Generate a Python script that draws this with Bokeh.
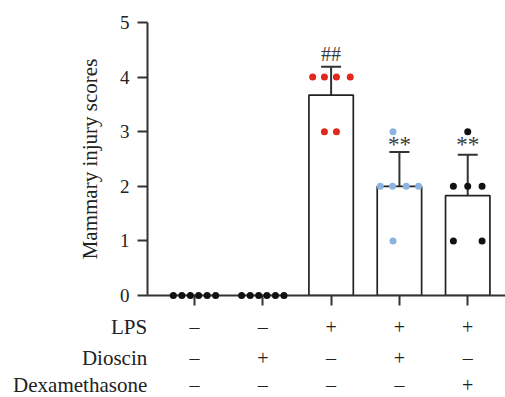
from bokeh.plotting import figure
from bokeh.models import ColumnDataSource, Whisker, TeeHead, FixedTicker, Range1d
from bokeh.core.properties import value
from bokeh.embed import file_html
from bokeh.resources import INLINE

# ---- data ----
groups = [0, 1, 2, 3, 4]
means = [0.0, 0.0, 3.67, 2.0, 1.83]
sds = [0.0, 0.0, 0.52, 0.63, 0.75]
g1 = [0, 0, 0, 0, 0, 0]
g2 = [0, 0, 0, 0, 0, 0]
g3 = [4, 4, 4, 4, 3, 3]
g4 = [3, 2, 2, 2, 2, 1]
g5 = [3, 2, 2, 2, 1, 1]
row_labels = ["LPS", "Dioscin", "Dexamethasone"]
lps = ["–", "–", "+", "+", "+"]
dioscin = ["–", "+", "–", "+", "–"]
dexa = ["–", "–", "–", "–", "+"]
sig_groups = [2, 3, 4]
sig_marks = ["##", "**", "**"]
y_ticks = [0, 1, 2, 3, 4, 5]

# scatter layout (horizontal spread of points inside each group)
jit1 = [-0.31, -0.185, -0.06, 0.06, 0.185, 0.31]
jit3 = [-0.27, -0.098, 0.078, 0.28, -0.098, 0.078]
jit4 = [-0.094, -0.28, -0.1, 0.1, 0.28, -0.094]
jit5 = [0.0, -0.21, 0.0, 0.21, -0.21, 0.21]

RED = "#e0281c"
BLUE = "#8db3e2"
BLACK = "#111111"
AX = "#333333"
FONT = "Liberation Serif"

p = figure(width=505, height=397, output_backend="svg", toolbar_location=None,
           x_range=Range1d(-0.688, 4.553), y_range=Range1d(0, 5),
           min_border_left=147, min_border_right=0, min_border_top=22,
           min_border_bottom=102)
p.outline_line_color = None
p.xgrid.visible = False
p.ygrid.visible = False

# bars
p.vbar(x=groups, top=means, width=0.65, fill_color="white",
       line_color="#222222", line_width=1.7)

# error bars
eb_x = [groups[i] for i in range(5) if sds[i] > 0]
eb_up = [means[i] + sds[i] for i in range(5) if sds[i] > 0]
eb_lo = [means[i] - sds[i] for i in range(5) if sds[i] > 0]
esrc = ColumnDataSource(dict(x=eb_x, upper=eb_up, lower=eb_lo))
wh = Whisker(base="x", upper="upper", lower="lower", source=esrc,
             dimension="height", line_color=AX, line_width=2,
             upper_head=TeeHead(size=20, line_color=AX, line_width=2),
             lower_head=TeeHead(size=20, line_color=AX, line_width=2))
p.add_layout(wh)

# points
def pts(g, vals, jit, color):
    xs = [g + j for j in jit]
    p.scatter(x=xs, y=vals, size=7, fill_color=color, line_color=None,
              level="overlay")

pts(0, g1, jit1, BLACK)
pts(1, g2, jit1, BLACK)
pts(2, g3, jit3, RED)
pts(3, g4, jit4, BLUE)
pts(4, g5, jit5, BLACK)

# significance marks
p.text(x=sig_groups[:1], y=[4.43], text=sig_marks[:1], text_align="center",
       text_baseline="middle", text_font=value(FONT), text_font_size="20px",
       text_color="#3a3a3a", level="overlay")
p.text(x=sig_groups[1:], y=[2.76, 2.76], text=sig_marks[1:], text_align="center",
       text_baseline="middle", text_font=value(FONT), text_font_size="23px",
       text_color="#3a3a3a", level="overlay")

# axes
p.yaxis.ticker = FixedTicker(ticks=y_ticks)
p.yaxis.minor_tick_line_color = None
p.yaxis.major_tick_in = 0
p.yaxis.major_tick_out = 10
p.yaxis.major_tick_line_width = 2
p.yaxis.major_tick_line_color = AX
p.yaxis.axis_line_width = 2
p.yaxis.axis_line_color = AX
p.yaxis.major_label_text_font = FONT
p.yaxis.major_label_text_font_size = "19px"
p.yaxis.major_label_text_color = "#222222"
p.yaxis.major_label_standoff = 8
p.yaxis.axis_label = "Mammary injury scores"
p.yaxis.axis_label_text_font = FONT
p.yaxis.axis_label_text_font_size = "21px"
p.yaxis.axis_label_text_font_style = "normal"
p.yaxis.axis_label_text_color = "#222222"
p.yaxis.axis_label_standoff = 15

p.xaxis.ticker = FixedTicker(ticks=groups)
p.xaxis.minor_tick_line_color = None
p.xaxis.major_tick_in = 0
p.xaxis.major_tick_out = 10
p.xaxis.major_tick_line_width = 2
p.xaxis.major_tick_line_color = AX
p.xaxis.axis_line_width = 2
p.xaxis.axis_line_color = AX
p.xaxis.major_label_overrides = {g: "" for g in groups}

# treatment table under the axis
row_y = [-0.571, -1.15, -1.645]
tx, ty, tt = [], [], []
for r, signs in enumerate([lps, dioscin, dexa]):
    for g in groups:
        tx.append(g)
        ty.append(row_y[r])
        tt.append(signs[g])
p.text(x=tx, y=ty, text=tt, text_align="center", text_baseline="middle",
       text_font=value(FONT), text_font_size="20px", text_color="#222222",
       level="overlay")
p.text(x=[-0.692] * 3, y=row_y, text=row_labels, text_align="right",
       text_baseline="middle", text_font=value(FONT), text_font_size="21px",
       text_color="#222222", level="overlay")

open("out.html", "w").write(file_html(p, INLINE))
